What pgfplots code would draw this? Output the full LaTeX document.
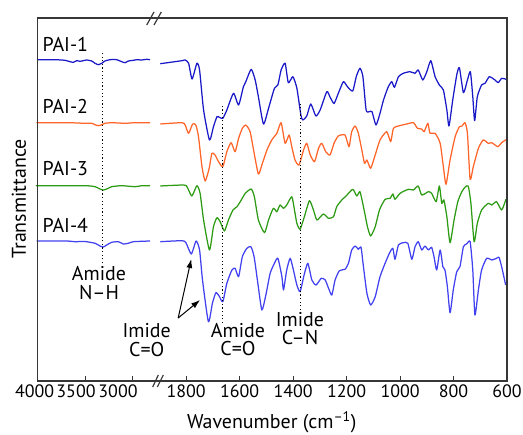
\documentclass[border=0pt]{standalone}
\usepackage{pgfplots}
\pgfplotsset{compat=1.18}
\usepackage{fontspec}
\setmainfont{PT Sans}
\usetikzlibrary{arrows.meta}
\definecolor{cA}{RGB}{25,25,200}
\definecolor{cB}{RGB}{255,100,40}
\definecolor{cC}{RGB}{45,155,20}
\definecolor{cD}{RGB}{65,65,240}
\definecolor{frame}{RGB}{55,55,55}
\begin{document}
\begin{tikzpicture}[x=1bp,y=1bp]
\useasboundingbox (0bp,0bp) rectangle (523bp,435bp);
\pgfplotsset{
  brk/.style={
    scale only axis, height=363bp, ymin=0, ymax=363, x dir=reverse,
    axis line style={draw=none}, ytick=\empty,
    xtick pos=bottom, tick align=inside, major tick length=5bp,
    tick style={line width=1bp, color=frame},
    clip=false,
    every axis plot/.append style={line width=1.25bp, mark=none, line join=round, smooth, tension=0.35},
  }
}
% ---------- left segment ----------
\begin{axis}[brk, name=L, at={(37.7bp,54bp)}, anchor=south west, width=118.3bp,
  xmin=2755, xmax=4000, xtick={3000,3500,4000}, xticklabels={}]
\addplot[cA] coordinates {(4000,321)(3994,321.3)(3818,321.3)(3713,320.7)(3660,319.3)(3625,318.7)(3589,320.3)(3555,319.7)(3520,320.3)(3484,321)(3432,320)(3397,317.7)(3362,316.3)(3326,317.7)(3292,320)(3239,321.3)(3168,321.3)(3116,319.3)(3081,318.3)(3046,320)(2994,320.7)(2958,321.3)(2905,321)(2853,321.7)(2818,321.3)};
\addplot[cB] coordinates {(4000,258.3)(3994,258.3)(3678,258.3)(3502,257.7)(3432,257.7)(3397,256.3)(3362,255.3)(3326,256.3)(3292,257.7)(3221,258.3)(3081,257.7)(2976,258.3)(2818,258.3)};
\addplot[cC] coordinates {(4000,195.3)(3994,195.3)(3502,195.3)(3397,194.3)(3344,192)(3309,191)(3274,192)(3221,194.3)(3116,195.3)(2976,194.3)(2905,195.3)(2818,195.3)};
\addplot[cD] coordinates {(4000,140)(3994,140)(3700,140)(3607,139.3)(3502,139.5)(3397,137.7)(3344,135)(3309,134)(3274,136)(3221,138.7)(3151,139.3)(3099,137)(3046,137.7)(2994,139.3)(2818,140)};
\draw[line width=1.2bp, dash pattern=on 1.2bp off 2.4bp] (axis cs:3316,118) -- (axis cs:3316,329);
\end{axis}
% ---------- right segment ----------
\begin{axis}[brk, name=R, at={(156bp,54bp)}, anchor=south west, width=351bp,
  xmin=600, xmax=1913, xtick={600,800,1000,1200,1400,1600,1800},
  xticklabels={600,800,1000,1200,1400,1600,1800},
  xticklabel style={font=\fontsize{18}{18}\selectfont, inner sep=4bp}]
\addplot[cA] coordinates {(1897,317.3)(1816,320.3)(1804,321)(1791,317.7)(1778,302)(1760,317.7)(1750,311)(1735,271)(1713,241)(1698,254.3)(1685,264.3)(1676,263.7)(1663,262.7)(1648,271)(1623,287.7)(1604,276)(1586,294.3)(1577,299.3)(1557,311.7)(1542,301)(1530,284.3)(1511,257)(1492,272.7)(1470,292.7)(1457,296)(1445,311)(1430,317.7)(1418,298.3)(1401,304.3)(1386,292.7)(1371,266)(1364,261)(1349,265)(1334,277)(1315,265)(1299,271)(1274,289.3)(1262,284)(1247,277.5)(1231,287.7)(1212,299.3)(1197,294.3)(1177,290)(1164,304.3)(1150,312.7)(1139,304.3)(1127,271)(1115,269.3)(1105,269.3)(1090,256)(1075,267.7)(1062,281)(1044,294.3)(1031,299.3)(1021,293.7)(1006,304.3)(988,307.7)(963,309.3)(944,307.7)(932,311)(915,301)(900,309.3)(885,320.3)(869,304.3)(853,296)(838,291)(825,271)(817,255)(803,281)(788,306)(778,313.3)(763,288.3)(748,301)(737,309.3)(728,284.3)(721,260.3)(711,284.3)(695,296)(682,297.7)(666,304.3)(645,301)(633,298.3)(620,302.7)(604,301.7)};
\addplot[cB] coordinates {(1897,257)(1816,258.3)(1804,256)(1791,247.7)(1776,257)(1764,256)(1754,244.3)(1741,214.3)(1729,200)(1714,212.7)(1704,227.7)(1692,226)(1679,219.3)(1663,214.3)(1648,229.3)(1632,238.3)(1617,229.3)(1604,242.7)(1590,252.7)(1577,256)(1561,249.3)(1548,231)(1530,207)(1515,217.7)(1498,231)(1480,241)(1461,247.7)(1445,258.3)(1430,237.7)(1415,246)(1405,234.3)(1393,221)(1378,216)(1361,231)(1349,237.7)(1336,226)(1320,219.3)(1305,232.7)(1293,237.7)(1278,229.3)(1262,226)(1247,237.7)(1231,245)(1206,246)(1191,234.3)(1181,249.3)(1168,255)(1156,247.7)(1143,231)(1133,217.7)(1124,221)(1110,212.7)(1093,226)(1075,241)(1050,249.3)(1035,239.3)(1025,252.7)(1006,255)(975,257)(950,258.3)(935,252.7)(919,252)(910,249.3)(896,257.7)(888,247.7)(869,247.7)(850,237.7)(838,214.3)(828,196.7)(813,221)(794,244.3)(778,254.3)(768,255)(757,258.3)(748,247.7)(738,201.7)(726,214.3)(707,232.7)(689,241)(670,237.7)(657,238.3)(645,236)(633,234.3)(620,238.3)(601,241.7)};
\addplot[cC] coordinates {(1897,195)(1810,196)(1797,194.3)(1779,185)(1760,195.3)(1748,187.7)(1735,161)(1713,131)(1698,154.3)(1685,163.3)(1673,159.3)(1657,150)(1642,161)(1625,171)(1610,174.3)(1594,181)(1579,187.7)(1557,192)(1545,184.3)(1530,161)(1507,148.3)(1492,161)(1474,172.7)(1461,169.3)(1449,176)(1436,172.7)(1424,176)(1405,184.3)(1395,171)(1386,157.7)(1374,151.7)(1358,164.3)(1339,180.3)(1324,171)(1311,161)(1287,167)(1268,162.7)(1249,164.3)(1237,174.3)(1218,181)(1202,185)(1177,191.7)(1162,185)(1150,189.3)(1137,174.3)(1122,154.3)(1110,145)(1093,154.3)(1077,171)(1056,181.7)(1037,182.7)(1027,187)(1019,181.7)(1000,187.7)(969,191.7)(950,191)(932,195)(919,186)(894,189.3)(882,187.7)(865,179.3)(853,195)(844,177.7)(836,181)(825,164.3)(813,138.3)(798,161)(784,179.3)(769,189.3)(757,193.7)(745,195)(735,177.7)(723,139.3)(711,157.7)(695,171)(670,177.7)(657,176)(639,179.3)(620,171)(604,181.7)};
\addplot[cD] coordinates {(1897,139.3)(1816,140.3)(1801,138.3)(1781,127)(1763,140)(1750,131)(1739,101)(1717,59.3)(1702,77.7)(1689,88.3)(1677,85)(1663,79.3)(1648,97.7)(1629,111)(1617,112.7)(1604,104.3)(1590,124.3)(1573,132.7)(1558,134.3)(1546,124.3)(1532,97.7)(1517,71)(1502,86)(1486,107.7)(1470,117.7)(1457,122.7)(1442,104.3)(1436,91)(1424,111)(1411,122.7)(1399,111)(1386,96)(1374,89.3)(1359,106)(1345,117.7)(1330,101)(1314,96)(1295,102.7)(1280,101)(1265,91)(1255,86)(1243,101)(1227,110.3)(1206,111.7)(1193,117.7)(1181,131)(1168,135)(1156,131.7)(1146,133.7)(1137,114.3)(1124,87.7)(1110,76)(1093,84.3)(1075,104.3)(1056,117.7)(1040,127.7)(1027,132.7)(1019,121.7)(1006,136)(988,138.3)(971,137.7)(956,121.7)(944,134.3)(932,139.3)(919,131)(907,135)(894,131)(882,133.7)(873,124.3)(863,111)(850,131)(840,114.3)(832,111)(823,94.3)(813,68.3)(801,91)(788,109.3)(776,114.3)(763,134.3)(751,137)(738,139.3)(728,111)(720,66)(707,91)(695,111)(676,122.7)(657,121)(639,122.7)(630,123.7)(620,114.3)(605,96)};
\draw[line width=1.2bp, dash pattern=on 1.2bp off 2.4bp] (axis cs:1663,58) -- (axis cs:1663,275);
\draw[line width=1.2bp, dash pattern=on 1.2bp off 2.4bp] (axis cs:1372,71) -- (axis cs:1372,279);
\draw[-{Latex[length=9bp,width=6bp]}, line width=1bp] (axis cs:1830,63) -- (axis cs:1781,122);
\draw[-{Latex[length=9bp,width=6bp]}, line width=1bp] (axis cs:1830,63) -- (axis cs:1748,81);
\end{axis}
% ---------- frame and break ----------
\draw[line width=1.5bp, color=frame] (37.7bp,54bp) rectangle (507bp,417bp);
\draw[line width=1.2bp, color=frame] (146.7bp,410bp) -- (154bp,423bp) (154bp,410bp) -- (161.3bp,423bp);
\draw[line width=1.2bp, color=frame] (152.7bp,48bp) -- (158.3bp,60bp) (157.3bp,48bp) -- (163.3bp,60bp);
% ---------- text ----------
\begin{scope}[every node/.style={inner sep=0pt, font=\fontsize{20}{18.6}\selectfont}]
\node[anchor=west] at (42.5bp,391bp) {PAI-1};
\node[anchor=west] at (42.5bp,328.3bp) {PAI-2};
\node[anchor=west] at (42.5bp,266bp) {PAI-3};
\node[anchor=west] at (42.5bp,209.3bp) {PAI-4};
\node[align=center] at (99bp,152bp) {Amide\\N\textendash H};
\node[align=center] at (146.7bp,95bp) {Imide\\C=O};
\node[align=center] at (238bp,95.5bp) {Amide\\C=O};
\node[align=center] at (300bp,106.2bp) {Imide\\C\textendash N};
\node at (271.7bp,13bp) {Wavenumber (cm\textsuperscript{\textendash1})};
\node[rotate=90] at (19bp,236bp) {Transmittance};
\end{scope}
\begin{scope}[every node/.style={inner sep=0pt, font=\fontsize{18}{18}\selectfont}]
\node at (34.7bp,44bp) {4000};
\node at (76bp,44bp) {3500};
\node at (118bp,44bp) {3000};
\end{scope}
\end{tikzpicture}
\end{document}
